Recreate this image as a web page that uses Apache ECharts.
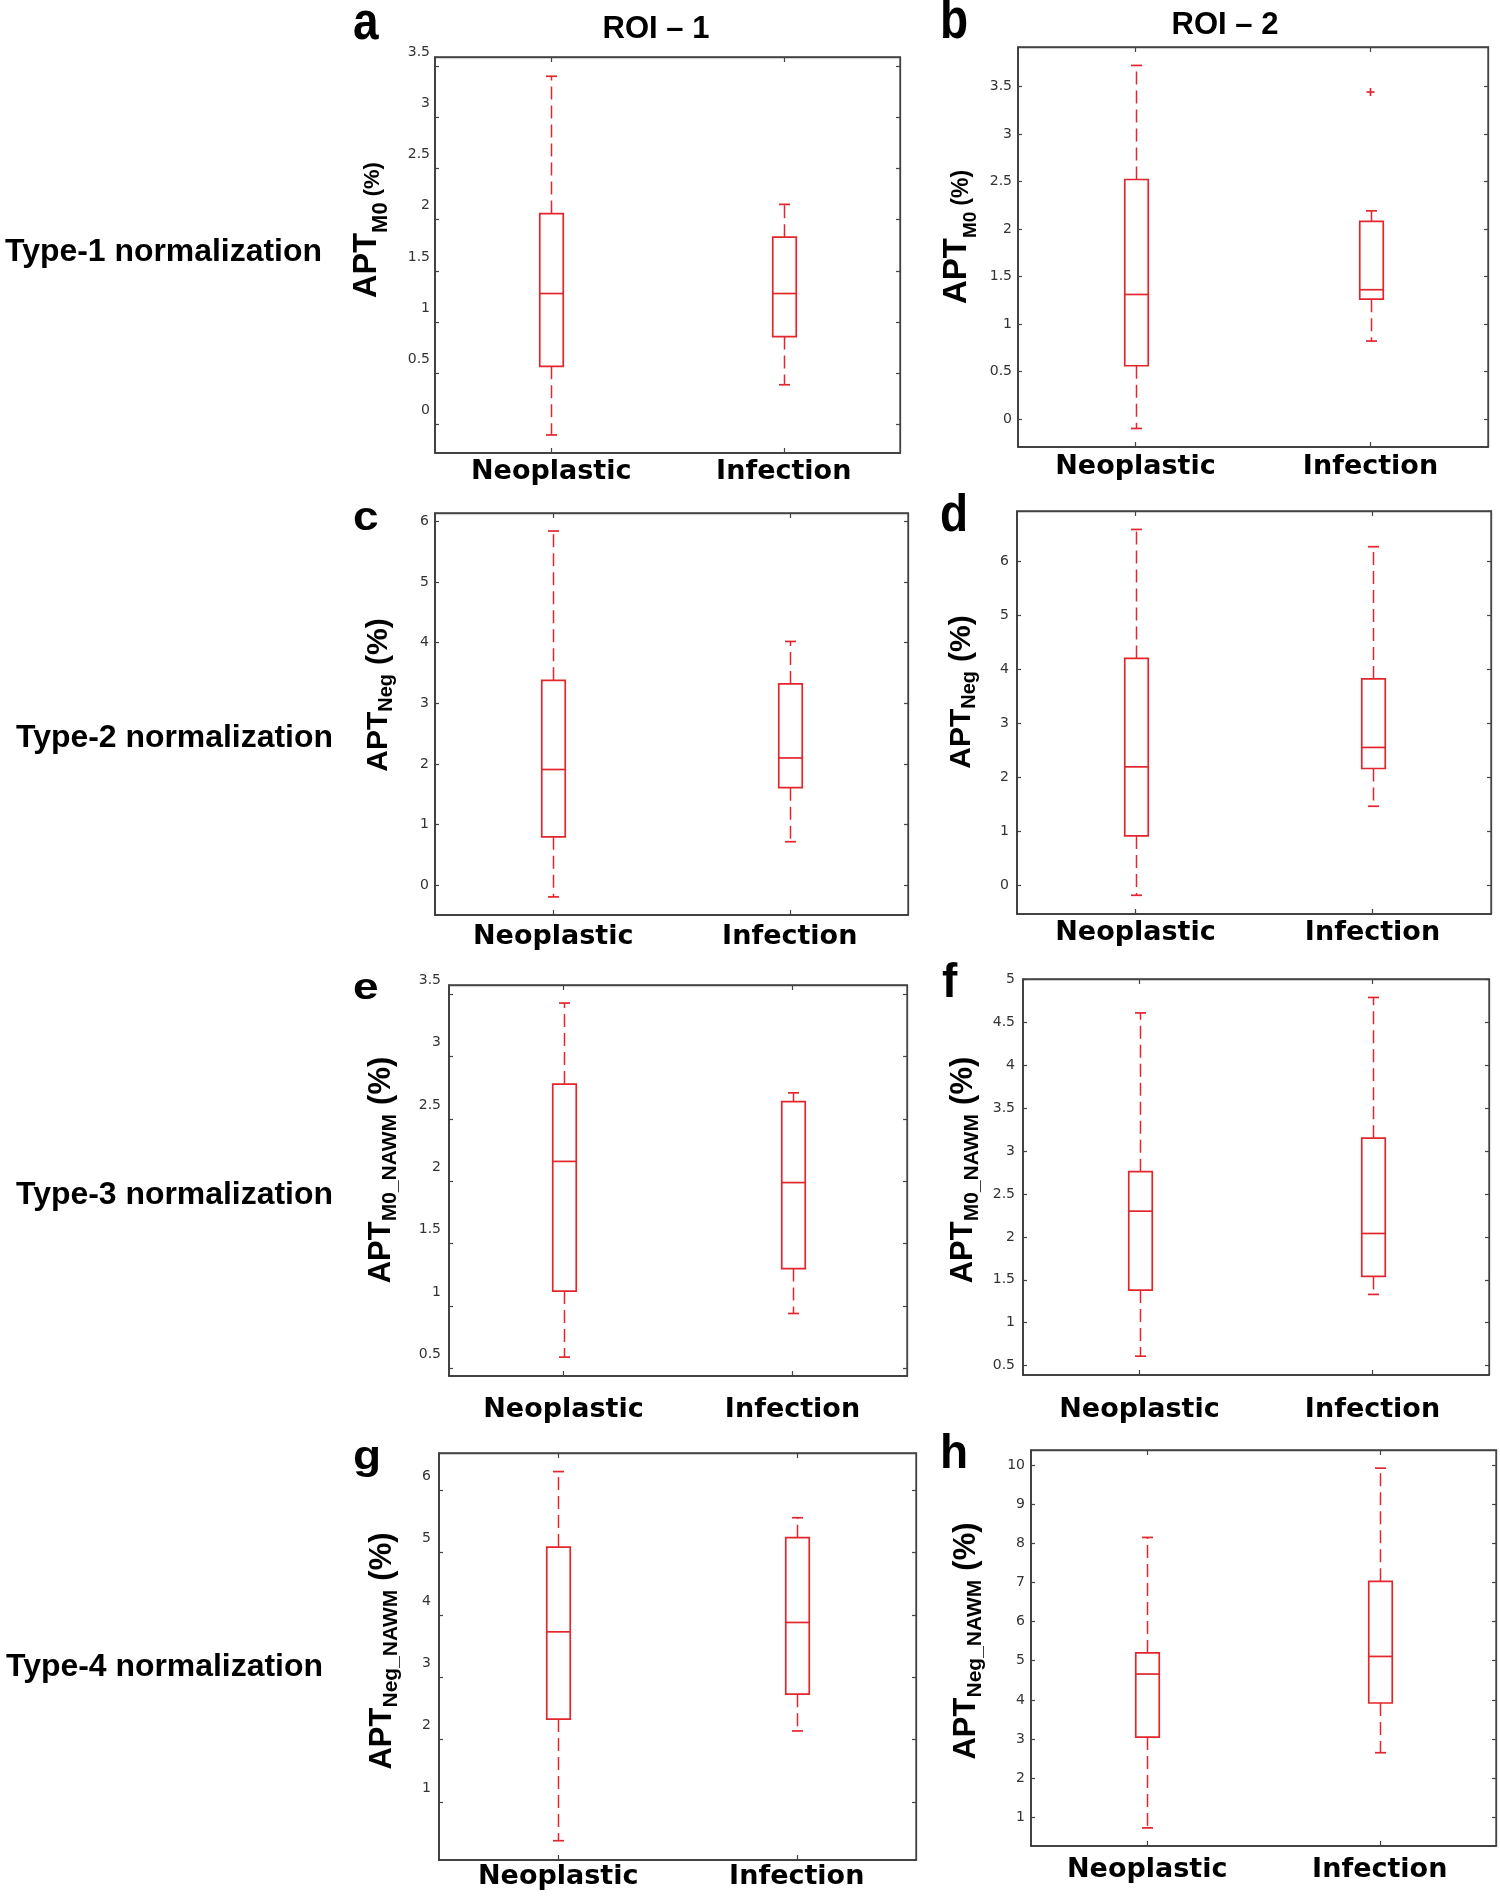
<!DOCTYPE html>
<html><head><meta charset="utf-8">
<style>html,body{margin:0;padding:0;background:#fff}#c{width:1500px;height:1901px}</style>
<script src="https://cdn.jsdelivr.net/npm/echarts@6/dist/echarts.min.js"></script>
</head><body><div id="c"></div>
<script>
// ---------------- DATA ----------------
const categories = ['Neoplastic', 'Infection'];
const columnTitles = ['ROI \u2013 1', 'ROI \u2013 2'];
const rowTitles = ['Type-1 normalization', 'Type-2 normalization', 'Type-3 normalization', 'Type-4 normalization'];
// each box: [lower whisker, Q1, median, Q3, upper whisker]
const aNeo = [-0.10, 0.57, 1.28, 2.06, 3.40];
const aInf = [0.39, 0.86, 1.28, 1.83, 2.15];
const bNeo = [-0.10, 0.56, 1.31, 2.52, 3.72];
const bInf = [0.82, 1.26, 1.36, 2.08, 2.19];
const bInfOutliers = [3.44];
const cNeo = [-0.19, 0.80, 1.91, 3.38, 5.84];
const cInf = [0.72, 1.61, 2.10, 3.32, 4.02];
const dNeo = [-0.19, 0.91, 2.19, 4.20, 6.59];
const dInf = [1.46, 2.16, 2.55, 3.82, 6.27];
const eNeo = [0.59, 1.12, 2.16, 2.78, 3.43];
const eInf = [0.94, 1.30, 1.99, 2.64, 2.71];
const fNeo = [0.61, 1.38, 2.30, 2.76, 4.61];
const fInf = [1.33, 1.54, 2.04, 3.15, 4.79];
const gNeo = [0.38, 2.33, 3.73, 5.09, 6.30];
const gInf = [2.14, 2.73, 3.88, 5.24, 5.56];
const hNeo = [0.73, 3.05, 4.66, 5.20, 8.15];
const hInf = [2.65, 3.92, 5.11, 7.03, 9.92];
const ticksA = [0, 0.5, 1, 1.5, 2, 2.5, 3, 3.5];
const ticksB = [0, 0.5, 1, 1.5, 2, 2.5, 3, 3.5];
const ticksC = [0, 1, 2, 3, 4, 5, 6];
const ticksD = [0, 1, 2, 3, 4, 5, 6];
const ticksE = [0.5, 1, 1.5, 2, 2.5, 3, 3.5];
const ticksF = [0.5, 1, 1.5, 2, 2.5, 3, 3.5, 4, 4.5, 5];
const ticksG = [1, 2, 3, 4, 5, 6];
const ticksH = [1, 2, 3, 4, 5, 6, 7, 8, 9, 10];

const panels = [
  { id: 'a', neo: aNeo, inf: aInf, infOut: [], ticks: ticksA, sub: 'M0' },
  { id: 'b', neo: bNeo, inf: bInf, infOut: bInfOutliers, ticks: ticksB, sub: 'M0' },
  { id: 'c', neo: cNeo, inf: cInf, infOut: [], ticks: ticksC, sub: 'Neg' },
  { id: 'd', neo: dNeo, inf: dInf, infOut: [], ticks: ticksD, sub: 'Neg' },
  { id: 'e', neo: eNeo, inf: eInf, infOut: [], ticks: ticksE, sub: 'M0_NAWM' },
  { id: 'f', neo: fNeo, inf: fInf, infOut: [], ticks: ticksF, sub: 'M0_NAWM' },
  { id: 'g', neo: gNeo, inf: gInf, infOut: [], ticks: ticksG, sub: 'Neg_NAWM' },
  { id: 'h', neo: hNeo, inf: hInf, infOut: [], ticks: ticksH, sub: 'Neg_NAWM' }
];

// ---------------- LAYOUT / STYLE ----------------
const FA = '"Liberation Sans", Arial, Helvetica, sans-serif';
const FD = '"DejaVu Sans", "Liberation Sans", sans-serif';
const RED = '#e3262c';
const FRAME = '#333333';
const BOX_W = 23.5, CAP_W = 11;
// grid [left, top, width, height], axis extent, y-label margin, labels shifted up?, x-label margin,
// name [cx, cy, mainSize, subSize, pctSize, pctPadLeft, raise], letter [x, y, scaleY]
const L = {
  a: { grid: [435, 57, 465, 396], ext: [-0.276, 3.588], ym: 5, up: true, xm: 5, nm: [371, 230, 32.5, 22, 22, 6, 8], lt: [353, 24.7, 1.15] },
  b: { grid: [1018, 47, 470, 400], ext: [-0.295, 3.914], ym: 6, up: false, xm: 6, nm: [960, 237, 33, 19, 23, 6, 7], lt: [940, 22.1, 1.25] },
  c: { grid: [435, 513, 473, 402], ext: [-0.488, 6.137], ym: 6, up: false, xm: 8, nm: [380, 695, 30, 20, 30, 9, 3], lt: [353, 518.8, 0.89] },
  d: { grid: [1017, 511, 474, 403], ext: [-0.537, 6.932], ym: 8, up: false, xm: 5, nm: [963, 692, 30, 20, 30, 9, 3], lt: [940, 516.8, 1.14] },
  e: { grid: [449, 985, 458, 391], ext: [0.4385, 3.575], ym: 8, up: true, xm: 20, nm: [383, 1170, 31, 21, 31, 9, 4], lt: [353, 988.9, 0.82] },
  f: { grid: [1023, 979, 466, 396], ext: [0.391, 5.005], ym: 8, up: false, xm: 21, nm: [965, 1170, 31, 21, 31, 9, 4], lt: [942, 983.4, 1.04] },
  g: { grid: [439, 1453, 477, 407], ext: [0.0705, 6.598], ym: 8, up: true, xm: 3, nm: [384, 1651, 31, 21, 31, 9, 4], lt: [353, 1457.5, 0.88] },
  h: { grid: [1031, 1450, 465, 396], ext: [0.267, 10.384], ym: 6, up: false, xm: 10, nm: [968, 1641, 31, 21, 31, 9, 4], lt: [940, 1455.1, 1.04] }
};
const rowLabelPos = [[5, 252], [16, 738], [16, 1195], [6, 1667]];
const colTitlePos = [[656, 29], [1225, 25]];

function renderBox(params, api) {
  const c = api.value(0);
  const lo = api.coord([c, api.value(1)]);
  const q1 = api.coord([c, api.value(2)]);
  const md = api.coord([c, api.value(3)]);
  const q3 = api.coord([c, api.value(4)]);
  const hi = api.coord([c, api.value(5)]);
  const x = Math.round(q1[0]) + 0.5;
  const hw = BOX_W / 2, cw = CAP_W / 2;
  const solid = { stroke: RED, lineWidth: 1.7, fill: null };
  const dashed = { stroke: RED, lineWidth: 1.5, lineDash: [13, 6], fill: null };
  return {
    type: 'group', children: [
      { type: 'line', shape: { x1: x, y1: q3[1], x2: x, y2: hi[1] }, style: dashed },
      { type: 'line', shape: { x1: x, y1: q1[1], x2: x, y2: lo[1] }, style: dashed },
      { type: 'rect', shape: { x: x - hw, y: q3[1], width: 2 * hw, height: q1[1] - q3[1] }, style: { stroke: RED, lineWidth: 1.7, fill: 'rgba(0,0,0,0)' } },
      { type: 'line', shape: { x1: x - hw, y1: md[1], x2: x + hw, y2: md[1] }, style: solid },
      { type: 'line', shape: { x1: x - cw, y1: hi[1], x2: x + cw, y2: hi[1] }, style: solid },
      { type: 'line', shape: { x1: x - cw, y1: lo[1], x2: x + cw, y2: lo[1] }, style: solid }
    ]
  };
}
function renderPlus(params, api) {
  const p = api.coord([api.value(0), api.value(1)]);
  const s = 4;
  const st = { stroke: RED, lineWidth: 1.7 };
  return {
    type: 'group', children: [
      { type: 'line', shape: { x1: p[0] - s, y1: p[1], x2: p[0] + s, y2: p[1] }, style: st },
      { type: 'line', shape: { x1: p[0], y1: p[1] - s, x2: p[0], y2: p[1] + s }, style: st }
    ]
  };
}

const grid = [], xAxis = [], yAxis = [], series = [], graphic = [];
panels.forEach((p, i) => {
  const l = L[p.id];
  grid.push({ left: l.grid[0], top: l.grid[1], width: l.grid[2], height: l.grid[3], show: true, borderColor: '#444', borderWidth: 1.3, backgroundColor: 'transparent' });
  const tickStyle = { color: '#444', width: 1.2 };
  xAxis.push({
    gridIndex: i, type: 'category', data: categories, position: 'bottom', boundaryGap: true,
    axisLine: { show: true, onZero: false, lineStyle: { color: FRAME, width: 1.6 } },
    axisTick: { show: true, inside: true, alignWithLabel: true, length: 5, lineStyle: tickStyle },
    axisLabel: { margin: l.xm, fontSize: 27, fontWeight: 'bold', color: '#000', fontFamily: FD },
    splitLine: { show: false }
  });
  xAxis.push({
    gridIndex: i, type: 'category', data: categories, position: 'top', boundaryGap: true,
    axisLine: { show: true, onZero: false, lineStyle: { color: '#444', width: 1.3 } },
    axisTick: { show: true, inside: true, alignWithLabel: true, length: 5, lineStyle: tickStyle },
    axisLabel: { show: false }, splitLine: { show: false }
  });
  yAxis.push({
    gridIndex: i, type: 'value', position: 'left', min: l.ext[0], max: l.ext[1],
    axisLine: { show: true, onZero: false, lineStyle: { color: FRAME, width: 1.6 } },
    axisTick: { show: true, inside: true, length: 4, customValues: p.ticks, lineStyle: tickStyle },
    axisLabel: {
      customValues: p.ticks, margin: l.ym, fontSize: 14, color: '#333', fontFamily: FD,
      verticalAlign: l.up ? 'bottom' : 'middle', padding: l.up ? [0, 0, 7, 0] : [4, 0, 0, 0]
    },
    splitLine: { show: false }
  });
  yAxis.push({
    gridIndex: i, type: 'value', position: 'right', min: l.ext[0], max: l.ext[1],
    axisLine: { show: true, onZero: false, lineStyle: { color: '#444', width: 1.3 } },
    axisTick: { show: true, inside: true, length: 4, customValues: p.ticks, lineStyle: tickStyle },
    axisLabel: { show: false }, splitLine: { show: false }
  });
  series.push({
    type: 'custom', xAxisIndex: 2 * i, yAxisIndex: 2 * i, renderItem: renderBox, clip: false, silent: true,
    encode: { x: 0, y: [1, 2, 3, 4, 5] },
    data: [[0].concat(p.neo), [1].concat(p.inf)]
  });
  if (p.infOut.length) {
    series.push({
      type: 'custom', xAxisIndex: 2 * i, yAxisIndex: 2 * i, renderItem: renderPlus, clip: false, silent: true,
      encode: { x: 0, y: 1 }, data: p.infOut.map(v => [1, v])
    });
  }
  // y-axis name (rotated, with subscript)
  const raise = l.nm[6];
  graphic.push({
    type: 'text', x: l.nm[0], y: l.nm[1], rotation: Math.PI / 2, silent: true,
    style: {
      text: '{m|APT}{s|' + p.sub + '}{p|(%)}',
      align: 'center', verticalAlign: 'middle', textAlign: 'center', textVerticalAlign: 'middle',
      fill: '#000',
      rich: {
        m: { fontSize: l.nm[2], fontWeight: 'bold', fontFamily: FA, fill: '#000', color: '#000', verticalAlign: 'bottom', padding: [0, 0, raise, 0] },
        s: { fontSize: l.nm[3], fontWeight: 'bold', fontFamily: FA, fill: '#000', color: '#000', verticalAlign: 'bottom' },
        p: { fontSize: l.nm[4], fontWeight: 'bold', fontFamily: FA, fill: '#000', color: '#000', verticalAlign: 'bottom', padding: [0, 0, raise, l.nm[5]] }
      }
    }
  });
  // panel letter
  graphic.push({
    type: 'text', x: l.lt[0], y: l.lt[1], scaleX: 1, scaleY: l.lt[2], silent: true,
    style: { text: p.id, fontSize: 46, fontWeight: 'bold', fontFamily: FA, fill: '#000',
      align: 'left', verticalAlign: 'middle', textAlign: 'left', textVerticalAlign: 'middle' }
  });
});
rowTitles.forEach((t, r) => {
  graphic.push({
    type: 'text', x: rowLabelPos[r][0], y: rowLabelPos[r][1], scaleX: 1.03, silent: true,
    style: { text: t, fontSize: 31, fontWeight: 'bold', fontFamily: FA, fill: '#000',
      align: 'left', verticalAlign: 'middle', textAlign: 'left', textVerticalAlign: 'middle' }
  });
});
columnTitles.forEach((t, k) => {
  graphic.push({
    type: 'text', x: colTitlePos[k][0], y: colTitlePos[k][1], silent: true,
    style: { text: t, fontSize: 31, fontWeight: 'bold', fontFamily: FA, fill: '#000',
      align: 'center', verticalAlign: 'middle', textAlign: 'center', textVerticalAlign: 'middle' }
  });
});

const chart = echarts.init(document.getElementById('c'), null, { renderer: 'canvas' });
chart.setOption({
  animation: false, backgroundColor: '#fff',
  grid, xAxis, yAxis, series, graphic
});
</script></body></html>
